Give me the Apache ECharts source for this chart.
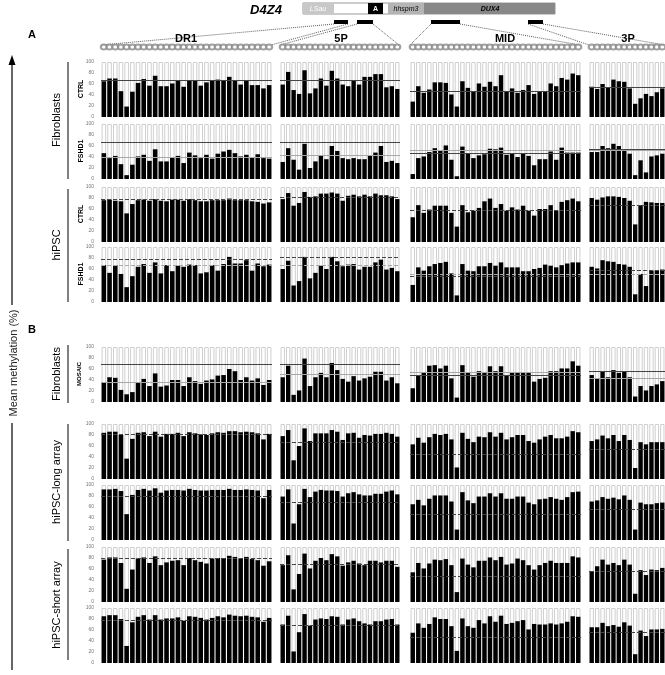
<!DOCTYPE html>
<html>
<head>
<meta charset="utf-8">
<script src="https://cdn.jsdelivr.net/npm/echarts/dist/echarts.min.js"></script>
<style>
html, body { margin: 0; padding: 0; background: #fff; }
#chart { width: 665px; height: 675px; }
</style>
</head>
<body>
<div id="chart"></div>
<script>
// regions
const cols = ['DR1', '5P', 'MID', '3P'];

// A - fibroblasts
const fibCtrlDR1 = [65,70,70,47,19,46,62,69,57,75,56,56,61,67,55,67,67,57,63,66,68,67,73,66,59,66,58,58,52,58];
const fibCtrl5P = [59,82,49,42,85,43,52,70,57,84,70,59,56,67,59,73,73,78,78,54,56,51];
const fibCtrlMID = [28,56,44,50,63,63,62,41,19,65,53,47,61,55,64,56,76,47,52,44,49,58,42,47,47,61,56,71,68,79,76];
const fibCtrl3P = [55,51,60,54,68,65,64,52,24,34,42,38,45,52];
const fibFshdDR1 = [47,38,42,27,7,26,41,44,33,54,32,32,39,42,29,48,43,38,44,37,46,50,53,47,41,44,39,45,38,37];
const fibFshd5P = [31,56,35,17,64,20,32,43,36,60,51,38,36,38,36,36,43,48,60,31,33,29];
const fibFshdMID = [9,38,41,49,56,52,61,35,5,59,46,38,43,45,55,54,57,44,46,40,46,42,25,36,36,50,35,57,48,48,48];
const fibFshd3P = [49,49,60,56,64,60,54,46,7,34,12,41,43,46];
// A - hiPSC
const ipsCtrlDR1 = [76,77,75,74,52,69,76,77,75,78,75,74,77,77,75,78,76,74,74,76,76,76,79,76,76,76,74,73,70,72];
const ipsCtrl5P = [78,89,66,71,91,82,83,88,88,90,88,75,84,86,83,86,83,88,85,85,83,78];
const ipsCtrlMID = [45,67,53,59,66,66,66,53,28,67,54,57,62,74,79,62,69,57,63,59,66,57,48,60,60,67,57,73,76,79,74];
const ipsCtrl3P = [80,77,81,83,83,82,80,75,32,67,73,72,71,71];
const ipsFshdDR1 = [67,53,67,51,27,47,64,69,53,72,52,67,56,66,64,68,67,52,54,67,57,69,82,70,70,76,57,70,65,68];
const ipsFshd5P = [60,75,30,38,82,43,53,66,60,82,74,65,68,69,59,64,64,72,77,59,62,56];
const ipsFshdMID = [31,63,57,65,69,71,73,52,12,69,57,56,65,65,71,66,72,63,63,63,56,56,60,62,68,66,63,67,70,72,72];
const ipsFshd3P = [64,61,76,74,73,69,68,64,14,51,29,57,58,59];
// B
const mosDR1 = [36,45,44,22,14,18,35,42,29,52,28,30,40,40,29,45,38,33,39,41,48,49,60,56,40,45,39,43,31,40];
const mos5P = [45,66,13,21,79,29,45,53,45,71,58,42,37,47,39,43,46,55,55,39,45,34];
const mosMID = [25,49,53,66,67,61,66,43,8,67,53,46,56,54,65,56,65,48,53,53,53,53,37,42,44,56,56,61,61,74,66];
const mos3P = [49,43,56,45,58,53,56,45,10,29,21,29,32,38];
const long1DR1 = [84,86,86,80,37,73,84,85,78,86,77,82,82,84,78,85,83,81,80,83,85,84,87,87,85,86,85,83,72,82];
const long15P = [78,89,34,60,92,69,83,83,83,89,86,71,83,84,75,80,79,82,82,84,82,77];
const long1MID = [63,75,66,76,82,80,82,72,21,84,73,67,77,76,85,77,84,72,76,80,80,69,66,72,77,80,74,74,77,87,85];
const long13P = [69,72,79,74,80,69,80,71,20,67,63,67,67,67];
const long2DR1 = [92,92,93,89,47,82,91,93,90,94,86,90,91,91,90,93,91,90,90,91,91,91,93,91,91,92,91,90,76,91];
const long25P = [79,92,30,65,93,78,88,91,90,90,89,79,85,87,83,81,81,84,84,88,90,83];
const long2MID = [65,73,63,75,81,81,81,70,19,87,72,67,79,79,85,79,85,75,75,79,79,68,65,74,75,78,75,73,78,87,88];
const long23P = [70,72,78,75,77,74,81,73,19,68,65,65,67,68];
const short1DR1 = [77,81,81,71,24,59,79,81,71,83,67,72,75,76,67,80,76,73,70,79,80,80,84,82,79,82,78,76,66,74];
const short15P = [67,85,23,51,88,61,75,80,76,87,83,66,72,75,70,67,75,75,72,75,75,64];
const short1MID = [54,71,61,70,77,76,78,67,18,79,68,63,75,75,81,76,82,68,70,79,76,67,59,67,71,75,71,71,71,83,81];
const short13P = [56,65,77,68,71,67,77,68,15,58,49,59,58,62];
const short2DR1 = [85,87,87,80,31,74,84,87,79,87,79,81,81,83,77,85,84,82,79,82,85,83,88,86,85,86,84,83,75,82];
const short25P = [70,86,21,56,89,68,79,81,80,85,84,70,79,81,76,72,70,76,76,79,80,70];
const short2MID = [55,72,64,71,83,80,80,67,22,81,67,64,78,72,85,75,86,71,73,76,78,61,71,70,70,72,70,72,75,85,84];
const short23P = [65,65,73,67,69,66,74,68,16,59,49,61,61,62];

// reference lines (dark) and sample means (light), per region
const fibCtrlRef = [67,67,47,55];
const fibFshdRef = [67,67,47,55];
const fibFshdMean = [39,44,52,52];
const ipsCtrlRef = [77,82,58,67];
const ipsFshdRef = [78,82,46,57];
const ipsFshdMean = [67,67,50,51];
const mosRef = [69,69,48,56];
const mosMean = [36,50,54,43];
const long1Ref = [81,67,45,55];
const long2Ref = [80,68,47,56];
const short1Ref = [79,68,47,56];
const short2Ref = [78,68,47,56];

const rows = [
  {vals: [fibCtrlDR1, fibCtrl5P, fibCtrlMID, fibCtrl3P], dark: fibCtrlRef, light: null, dashed: false},
  {vals: [fibFshdDR1, fibFshd5P, fibFshdMID, fibFshd3P], dark: fibFshdRef, light: fibFshdMean, dashed: false},
  {vals: [ipsCtrlDR1, ipsCtrl5P, ipsCtrlMID, ipsCtrl3P], dark: ipsCtrlRef, light: null, dashed: true},
  {vals: [ipsFshdDR1, ipsFshd5P, ipsFshdMID, ipsFshd3P], dark: ipsFshdRef, light: ipsFshdMean, dashed: true},
  {vals: [mosDR1, mos5P, mosMID, mos3P], dark: mosRef, light: mosMean, dashed: false},
  {vals: [long1DR1, long15P, long1MID, long13P], dark: long1Ref, light: null, dashed: true},
  {vals: [long2DR1, long25P, long2MID, long23P], dark: long2Ref, light: null, dashed: true},
  {vals: [short1DR1, short15P, short1MID, short13P], dark: short1Ref, light: null, dashed: true},
  {vals: [short2DR1, short25P, short2MID, short23P], dark: short2Ref, light: null, dashed: true}
];

const colX = [101, 280, 410, 589];
const colW = [171, 120, 171, 77];
const rowY = [62, 124, 187, 247, 347, 424, 485, 547, 608];
const rowH = 55;

let grid = [], xAxis = [], yAxis = [], series = [];

rows.forEach(function (r, ri) {
  cols.forEach(function (c, ci) {
    const idx = grid.length;
    const v = r.vals[ci];
    grid.push({left: colX[ci], top: rowY[ri], width: colW[ci], height: rowH});
    xAxis.push({gridIndex: idx, type: 'category', data: v.map(function (_, i) { return i + 1; }), show: false});
    yAxis.push({
      gridIndex: idx, type: 'value', min: 0, max: 100, interval: 20,
      splitLine: {show: false}, axisLine: {show: false}, axisTick: {show: false},
      axisLabel: {show: ci === 0, fontSize: 5, color: '#777', margin: 7, fontFamily: 'Arial'}
    });
    // empty boxes up to 100
    series.push({
      type: 'bar', xAxisIndex: idx, yAxisIndex: idx, silent: true, z: 1,
      data: v.map(function () { return 100; }),
      barCategoryGap: '20%', barGap: '-100%',
      itemStyle: {color: '#fff', borderColor: '#cfcfcf', borderWidth: 1}
    });
    const ml = [];
    const t = r.dashed ? 'dashed' : 'solid';
    if (r.light) ml.push({yAxis: r.light[ci], lineStyle: {color: '#a8a8a8', type: t, width: 1}});
    ml.push({yAxis: r.dark[ci], lineStyle: {color: '#444', type: t, width: 1}});
    series.push({
      type: 'bar', xAxisIndex: idx, yAxisIndex: idx, z: 2,
      data: v, barCategoryGap: '20%', barGap: '-100%',
      itemStyle: {color: '#000'},
      markLine: {symbol: 'none', silent: true, label: {show: false}, data: ml}
    });
  });
});

// CpG circles above each region
cols.forEach(function (c, ci) {
  const idx = grid.length;
  const n = rows[0].vals[ci].length;
  grid.push({left: colX[ci], top: 44, width: colW[ci], height: 6});
  xAxis.push({gridIndex: idx, type: 'category', data: rows[0].vals[ci].map(function (_, i) { return i + 1; }), show: false});
  yAxis.push({gridIndex: idx, type: 'value', min: 0, max: 1, show: false});
  series.push({
    type: 'scatter', xAxisIndex: idx, yAxisIndex: idx, silent: true,
    symbol: 'emptyCircle', symbolSize: [6, 5],
    data: new Array(n).fill(0.5),
    itemStyle: {color: '#8a8a8a', borderWidth: 0.6}
  });
});

const g = [];
function txt(x, y, s, font, rot, fill) {
  g.push({type: 'text', x: x, y: y, rotation: rot || 0,
    style: {text: s, font: font, fill: fill || '#000', align: 'center', verticalAlign: 'middle'}});
}
function ln(x1, y1, x2, y2, w, dash, color) {
  g.push({type: 'line', shape: {x1: x1, y1: y1, x2: x2, y2: y2},
    style: {stroke: color || '#000', lineWidth: w || 1, lineDash: dash || null}});
}
function box(x, y, w, h, fill, stroke) {
  g.push({type: 'rect', shape: {x: x, y: y, width: w, height: h},
    style: {fill: fill, stroke: stroke || null, lineWidth: 1}});
}

// D4Z4 repeat unit
txt(266, 10, 'D4Z4', 'italic bold 13px Arial');
box(303, 3, 252, 11, '#fff', '#999');
box(303, 3, 31, 11, '#c8c8c8');
txt(318, 9, 'LSau', 'italic 7px Arial', 0, '#fff');
box(368, 3, 15, 11, '#000');
txt(375.5, 9, 'A', 'bold 7px Arial', 0, '#fff');
box(388, 3, 36, 11, '#b4b4b4');
txt(406, 9, 'hhspm3', 'italic 7px Arial', 0, '#000');
box(424, 3, 131, 11, '#888');
txt(490, 9, 'DUX4', 'italic bold 7px Arial', 0, '#000');

// amplicons
const amp = [[334, 348], [357, 373], [431, 460], [528, 543]];
amp.forEach(function (a) { box(a[0], 20, a[1] - a[0], 4, '#000'); });
amp.forEach(function (a, i) {
  ln(a[0], 24, colX[i], 45, 0.8, [1, 1], '#333');
  ln(a[1], 24, colX[i] + colW[i] - 1, 45, 0.8, [1, 1], '#333');
});

// region titles
txt(186, 39, 'DR1', 'bold 11px Arial');
txt(341, 39, '5P', 'bold 11px Arial');
txt(505, 39, 'MID', 'bold 11px Arial');
txt(628, 39, '3P', 'bold 11px Arial');
txt(32, 35, 'A', 'bold 11px Arial');
txt(32, 330, 'B', 'bold 11px Arial');

// y arrow and title
ln(12, 62, 12, 305, 1.2);
ln(12, 423, 12, 670, 1.2);
g.push({type: 'polygon', shape: {points: [[12, 55], [8.5, 65], [15.5, 65]]}, style: {fill: '#000'}});
txt(14, 363, 'Mean methylation (%)', '11px Arial', Math.PI / 2, '#222');

// group labels and bars
const R = Math.PI / 2;
ln(68, 62, 68, 179, 1);
txt(57, 120, 'Fibroblasts', '11px Arial', R);
txt(81, 89, 'CTRL', 'bold 7px Arial', R);
txt(81, 151, 'FSHD1', 'bold 7px Arial', R);
ln(68, 189, 68, 302, 1);
txt(57, 245, 'hiPSC', '11px Arial', R);
txt(81, 214, 'CTRL', 'bold 7px Arial', R);
txt(81, 274, 'FSHD1', 'bold 7px Arial', R);
ln(68, 345, 68, 403, 1);
txt(57, 374, 'Fibroblasts', '11px Arial', R);
txt(79, 374, 'MOSAIC', 'bold 6px Arial', R);
ln(68, 424, 68, 541, 1);
txt(57, 482, 'hiPSC-long array', '11px Arial', R);
ln(68, 549, 68, 660, 1);
txt(57, 605, 'hiPSC-short array', '11px Arial', R);

const chart = echarts.init(document.getElementById('chart'));
chart.setOption({
  animation: false,
  grid: grid, xAxis: xAxis, yAxis: yAxis, series: series,
  graphic: g
});
</script>
</body>
</html>
